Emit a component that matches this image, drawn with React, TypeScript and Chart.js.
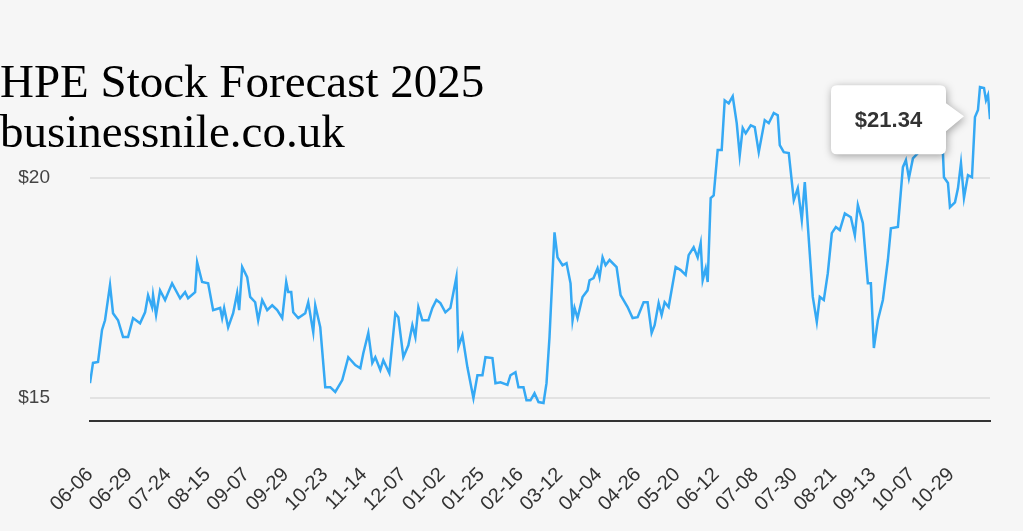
import React, { useEffect, useRef } from "react";
import { Chart, registerables } from "chart.js";
Chart.register(...registerables);

const sessionPos = [0,3,8,12,15,20,23,28,33,38,43,50,55,58,62,63,66,70,75,82,90,95,98,105,107,112,118,123,130,132,134,138,143,147,149,152,157,160,165,168,172,177,182,187,192,196,198,201,203,208,215,218,223,225,230,235,240,245,252,258,265,270,273,278,282,285,290,293,299,305,308,313,318,322,325,328,332,338,342,346,350,355,360,366,368,372,377,383,387,392,395,402,405,410,417,420,425,428,433,436,440,444,448,453,456,459,464,467,472,476,480,482,484,487,492,497,499,503,507,509,512,515,519,526,530,537,542,547,553,557,561,564,568,571,574,578,585,590,595,598,603,607,610,612,615,617,620,623,627,631,634,638,642,646,649,652,655,660,664,668,674,678,683,687,689,693,698,703,707,711,714,722,726,729,733,737,741,745,749,754,760,764,767,772,777,780,783,787,792,797,800,807,812,815,818,822,827,835,843,852,853,857,859,864,867,870,873,877,881,884,887,889,893,895,897,899];
const prices = [15.34,15.80,15.82,16.55,16.77,17.57,16.93,16.77,16.39,16.39,16.82,16.70,16.95,17.34,17.07,17.34,16.89,17.45,17.23,17.61,17.27,17.41,17.27,17.41,18.09,17.64,17.61,17.0,17.05,16.82,17.05,16.61,16.93,17.39,17.0,17.98,17.75,17.30,17.18,16.77,17.23,17.0,17.11,17.0,16.82,17.64,17.41,17.41,16.95,16.82,16.93,17.18,16.5,17.11,16.61,15.25,15.25,15.14,15.41,15.93,15.75,15.68,16.02,16.48,15.80,15.93,15.64,15.86,15.57,16.93,16.84,15.93,16.2,16.66,16.39,17.07,16.77,16.77,17.05,17.23,17.16,16.95,17.05,17.75,16.16,16.43,15.70,15.0,15.52,15.52,15.93,15.91,15.34,15.36,15.30,15.52,15.59,15.25,15.25,14.95,14.95,15.11,14.91,14.89,15.34,16.39,18.77,18.20,18.02,18.07,17.61,16.77,17.05,16.82,17.30,17.45,17.68,17.73,17.95,17.75,18.20,18.02,18.14,17.98,17.34,17.07,16.82,16.84,17.18,17.18,16.48,16.66,17.16,16.89,17.18,17.07,17.98,17.91,17.80,18.25,18.43,18.20,18.52,17.68,17.95,17.64,19.55,19.61,20.64,20.64,21.77,21.70,21.86,21.25,20.52,21.14,21.02,21.20,21.16,20.59,21.32,21.25,21.48,21.43,20.75,20.59,20.57,19.50,19.77,19.05,19.91,17.30,16.73,17.30,17.23,17.84,18.75,18.89,18.82,19.20,19.11,18.70,19.39,18.98,17.61,17.61,16.14,16.77,17.23,18.14,18.86,18.89,20.25,20.41,20.0,20.45,20.57,21.0,21.2,20.57,20.02,19.89,19.34,19.45,19.77,20.34,19.55,20.07,20.02,21.39,21.55,22.07,22.05,21.77,21.89,21.34];
const tickLabels = ["06-06","06-29","07-24","08-15","09-07","09-29","10-23","11-14","12-07","01-02","01-25","02-16","03-12","04-04","04-26","05-20","06-12","07-08","07-30","08-21","09-13","10-07","10-29"];
const tickStep = 39.1;
const tooltipText = "$21.34";

export default function App() {
  const ref = useRef<HTMLCanvasElement>(null);
  useEffect(() => {
    const tipPlugin = {
      id: "tip",
      afterDatasetsDraw(chart: any) {
        const meta = chart.getDatasetMeta(0);
        const pt = meta.data[meta.data.length - 1];
        const ctx = chart.ctx;
        const bw = 115, bh = 69;
        const right = pt.x - 44;
        const left = right - bw;
        const top = pt.y - 34;
        ctx.save();
        ctx.shadowColor = "rgba(0,0,0,0.35)";
        ctx.shadowBlur = 8;
        ctx.shadowOffsetX = 1;
        ctx.shadowOffsetY = 2;
        ctx.fillStyle = "#fff";
        const r = 6;
        ctx.beginPath();
        ctx.moveTo(left + r, top);
        ctx.lineTo(right - r, top);
        ctx.quadraticCurveTo(right, top, right, top + r);
        ctx.lineTo(right, top + 18);
        ctx.lineTo(right + 18, top + 31);
        ctx.lineTo(right, top + 46);
        ctx.lineTo(right, top + bh - r);
        ctx.quadraticCurveTo(right, top + bh, right - r, top + bh);
        ctx.lineTo(left + r, top + bh);
        ctx.quadraticCurveTo(left, top + bh, left, top + bh - r);
        ctx.lineTo(left, top + r);
        ctx.quadraticCurveTo(left, top, left + r, top);
        ctx.closePath();
        ctx.fill();
        ctx.shadowColor = "transparent";
        ctx.fillStyle = "#333";
        ctx.font = "bold 22px Arial, 'Liberation Sans', sans-serif";
        ctx.textAlign = "center";
        ctx.textBaseline = "middle";
        ctx.fillText(tooltipText, left + bw / 2, top + bh / 2 + 1);
        ctx.restore();
      },
    };
    const chart = new Chart(ref.current!, {
      type: "line",
      data: {
        datasets: [{
          data: sessionPos.map((p, i) => ({ x: p, y: prices[i] })),
          borderColor: "#35a9f4",
          borderWidth: 2.5,
          pointRadius: 0,
          tension: 0,
          fill: false,
        }],
      },
      options: {
        animation: false,
        responsive: false,
        layout: { padding: { top: 77, right: 33 } },
        plugins: { legend: { display: false }, tooltip: { enabled: false } },
        scales: {
          x: {
            type: "linear",
            min: 0,
            max: 899,
            afterBuildTicks: (axis: any) => {
              axis.ticks = tickLabels.map((_, i) => ({ value: i * tickStep }));
            },
            afterFit: (axis: any) => { axis.height = 110; },
            ticks: {
              autoSkip: false,
              minRotation: 45,
              maxRotation: 45,
              padding: 42,
              color: "#333",
              font: { size: 20, family: "Arial, 'Liberation Sans', sans-serif" },
              callback: (_v: any, i: number) => tickLabels[i],
            },
            grid: { display: false, drawTicks: false },
            border: { color: "#333", width: 2 },
          },
          y: {
            min: 14.48,
            max: 22.3,
            afterBuildTicks: (axis: any) => { axis.ticks = [{ value: 15 }, { value: 20 }]; },
            afterFit: (axis: any) => { axis.width = 90; },
            ticks: {
              color: "#444",
              padding: 40,
              font: { size: 19, family: "Arial, 'Liberation Sans', sans-serif" },
              callback: (v: any) => "$" + v,
            },
            grid: { color: "#e2e2e2", lineWidth: 2, drawTicks: false },
            border: { display: false },
          },
        },
      },
      plugins: [tipPlugin],
    });
    return () => chart.destroy();
  }, []);
  return (
    <div style={{ position: "absolute", left: 0, top: 0, width: 1023, height: 531, background: "#f6f6f6", overflow: "hidden" }}>
      <canvas ref={ref} width={1023} height={531} style={{ position: "absolute", left: 0, top: 0 }} />
      <div style={{ position: "absolute", left: 0, top: 56, fontFamily: "'Liberation Serif', 'DejaVu Serif', serif", fontSize: 47, lineHeight: "50px", color: "#000", whiteSpace: "nowrap" }}>
        HPE Stock Forecast 2025<br />businessnile.co.uk
      </div>
    </div>
  );
}
